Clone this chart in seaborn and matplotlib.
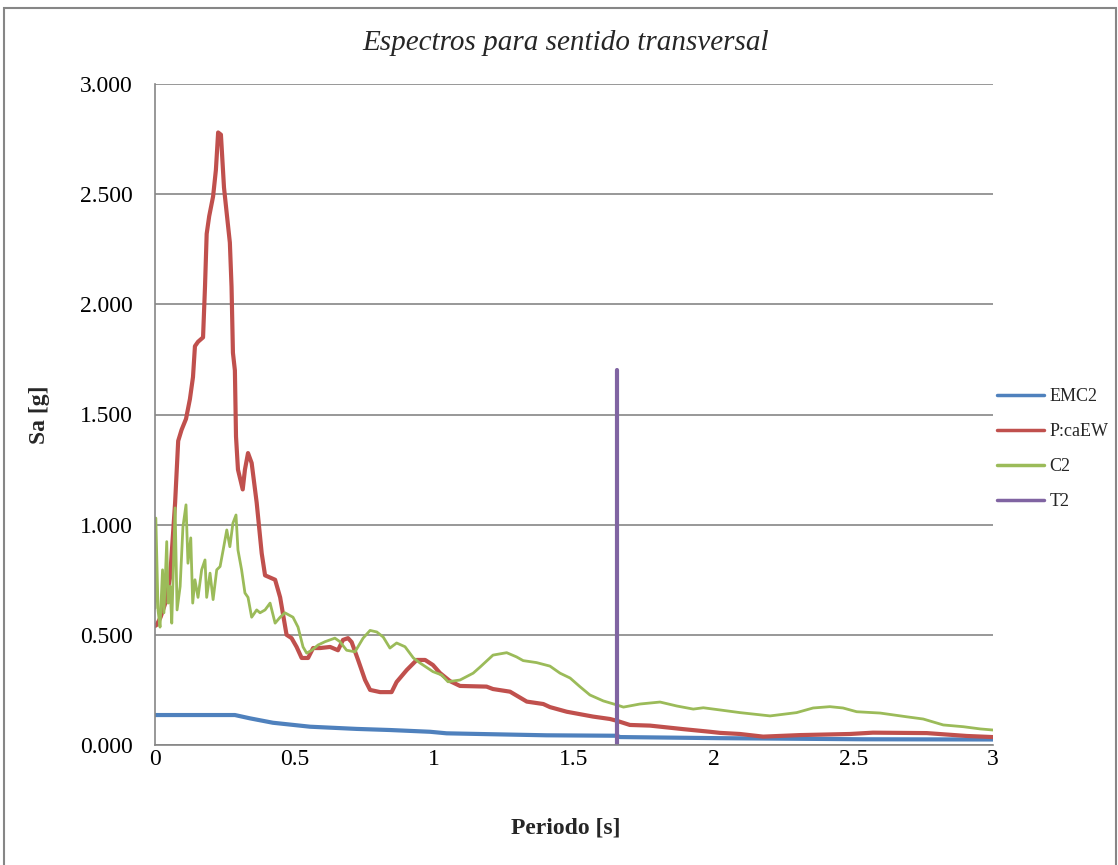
import numpy as np
import pandas as pd
import matplotlib
matplotlib.use('Agg')
import matplotlib.pyplot as plt
import seaborn as sns

# --- datos ---
periodo_emc2 = [0.0, 0.286, 0.34, 0.422, 0.555, 0.722, 0.841, 0.985, 1.044, 1.2,
                1.402, 1.653, 1.665, 2.023, 2.535, 3.0]
sa_emc2 = [0.136, 0.136, 0.121, 0.101, 0.083, 0.073, 0.068, 0.060, 0.053, 0.049,
           0.044, 0.042, 0.036, 0.031, 0.026, 0.025]

periodo_caew = [0.0, 0.006, 0.02, 0.036, 0.054, 0.072, 0.083, 0.095, 0.111, 0.125,
                0.136, 0.143, 0.154, 0.172, 0.179, 0.185, 0.194, 0.208, 0.218, 0.226,
                0.236, 0.247, 0.257, 0.268, 0.274, 0.279, 0.286, 0.290, 0.297, 0.314,
                0.322, 0.333, 0.346, 0.364, 0.382, 0.394, 0.412, 0.430, 0.448, 0.471,
                0.489, 0.507, 0.525, 0.548, 0.566, 0.591, 0.627, 0.655, 0.673, 0.691,
                0.704, 0.727, 0.752, 0.770, 0.806, 0.847, 0.865, 0.901, 0.937, 0.967,
                0.995, 1.020, 1.056, 1.092, 1.187, 1.210, 1.271, 1.331, 1.390, 1.414,
                1.474, 1.568, 1.629, 1.653, 1.700, 1.772, 1.891, 1.987, 2.023, 2.094,
                2.177, 2.309, 2.488, 2.570, 2.763, 2.906, 3.0]
sa_caew = [0.54, 0.545, 0.58, 0.64, 0.76, 1.10, 1.38, 1.43, 1.48, 1.57,
           1.67, 1.81, 1.83, 1.85, 2.08, 2.32, 2.40, 2.49, 2.61, 2.78,
           2.77, 2.53, 2.41, 2.28, 2.08, 1.78, 1.70, 1.40, 1.25, 1.16,
           1.25, 1.325, 1.28, 1.10, 0.87, 0.77, 0.76, 0.75, 0.67, 0.50,
           0.485, 0.445, 0.395, 0.395, 0.44, 0.44, 0.445, 0.43, 0.477, 0.485,
           0.467, 0.386, 0.295, 0.25, 0.24, 0.24, 0.286, 0.34, 0.386, 0.386,
           0.363, 0.327, 0.290, 0.268, 0.265, 0.254, 0.242, 0.197, 0.186, 0.172,
           0.151, 0.129, 0.118, 0.110, 0.091, 0.088, 0.072, 0.060, 0.055, 0.050,
           0.038, 0.045, 0.050, 0.056, 0.054, 0.041, 0.036]

periodo_c2 = [0.0, 0.003, 0.011, 0.018, 0.027, 0.032, 0.042, 0.047, 0.054, 0.060,
              0.072, 0.079, 0.090, 0.100, 0.111, 0.118, 0.128, 0.135, 0.143, 0.154,
              0.167, 0.179, 0.185, 0.197, 0.208, 0.221, 0.233, 0.244, 0.257, 0.268,
              0.279, 0.290, 0.297, 0.310, 0.322, 0.333, 0.346, 0.364, 0.376, 0.394,
              0.412, 0.430, 0.448, 0.465, 0.494, 0.512, 0.530, 0.543, 0.561, 0.584,
              0.609, 0.644, 0.662, 0.686, 0.716, 0.745, 0.770, 0.794, 0.817, 0.841,
              0.865, 0.895, 0.925, 0.949, 0.995, 1.026, 1.049, 1.092, 1.139, 1.164,
              1.210, 1.259, 1.294, 1.318, 1.366, 1.414, 1.450, 1.486, 1.521, 1.557,
              1.605, 1.653, 1.677, 1.736, 1.808, 1.868, 1.927, 1.963, 2.023, 2.094,
              2.202, 2.297, 2.356, 2.416, 2.463, 2.512, 2.596, 2.691, 2.750, 2.822,
              2.894, 2.954, 3.0]
sa_c2 = [0.62, 1.03, 0.61, 0.535, 0.795, 0.60, 0.923, 0.644, 0.72, 0.553,
         1.076, 0.613, 0.72, 0.99, 1.09, 0.825, 0.94, 0.644, 0.75, 0.67,
         0.795, 0.84, 0.67, 0.78, 0.66, 0.795, 0.81, 0.885, 0.976, 0.90,
         1.007, 1.044, 0.885, 0.795, 0.69, 0.67, 0.58, 0.613, 0.60, 0.613,
         0.644, 0.553, 0.58, 0.60, 0.58, 0.535, 0.445, 0.417, 0.43, 0.454,
         0.469, 0.485, 0.469, 0.43, 0.423, 0.485, 0.52, 0.513, 0.49, 0.44,
         0.463, 0.446, 0.395, 0.372, 0.333, 0.318, 0.287, 0.295, 0.326, 0.354,
         0.408, 0.419, 0.40, 0.383, 0.374, 0.358, 0.326, 0.304, 0.265, 0.227,
         0.20, 0.182, 0.172, 0.186, 0.195, 0.177, 0.163, 0.169, 0.159, 0.147,
         0.132, 0.147, 0.168, 0.174, 0.168, 0.151, 0.145, 0.128, 0.118, 0.091,
         0.083, 0.073, 0.068]

periodo_t2 = [1.654, 1.654]
sa_t2 = [0.0, 1.70]

nombres = ['EMC2', 'P:caEW', 'C2', 'T2']
colores = ['#4F81BD', '#C0504D', '#9BBB59', '#8064A2']
anchos = [3.0, 3.0, 2.0, 3.0]

series = [(periodo_emc2, sa_emc2), (periodo_caew, sa_caew),
          (periodo_c2, sa_c2), (periodo_t2, sa_t2)]

# --- figura estilo Excel ---
sns.set_style('white')
plt.rcParams['font.family'] = ['Liberation Serif', 'DejaVu Serif']

fig = plt.figure(figsize=(11.18, 8.65), dpi=100)
ax = fig.add_axes([155 / 1118, 1 - 745 / 865, (993 - 155) / 1118, (745 - 84) / 865])

for (px, sa), nombre, color, lw in zip(series, nombres, colores, anchos):
    df = pd.DataFrame({'Periodo': px, 'Sa': sa})
    sns.lineplot(data=df, x='Periodo', y='Sa', ax=ax, color=color, linewidth=lw,
                 estimator=None, sort=False, label=nombre)

ax.set_xlim(0, 3)
ax.set_ylim(0, 3)
ax.set_xticks(np.arange(0, 3.01, 0.5))
ax.set_xticklabels(['0', '0.5', '1', '1.5', '2', '2.5', '3'])
ax.set_yticks(np.arange(0, 3.01, 0.5))
ax.set_yticklabels([f'{v:.3f}' for v in np.arange(0, 3.01, 0.5)])
ax.tick_params(axis='both', labelsize=17, length=0, colors='black')
ax.tick_params(axis='y', pad=16)
ax.tick_params(axis='x', pad=3)

ax.yaxis.grid(True, color='#868686', linewidth=1.2)
ax.xaxis.grid(False)
ax.set_axisbelow(True)
for lado in ['top', 'right']:
    ax.spines[lado].set_visible(False)
for lado in ['left', 'bottom']:
    ax.spines[lado].set_color('#868686')
    ax.spines[lado].set_linewidth(1.2)

ax.set_xlabel('')
ax.set_ylabel('')
fig.text(566 / 1118, 1 - 828 / 865, 'Periodo [s]', ha='center', va='center',
         fontsize=17, fontweight='bold')
fig.text(40 / 1118, 1 - 415 / 865, 'Sa [g]', ha='center', va='center',
         fontsize=17, fontweight='bold', rotation=90)
fig.text(566 / 1118, 1 - 43 / 865, 'Espectros para sentido transversal',
         ha='center', va='center', fontsize=21, style='italic')

# leyenda a la derecha
leg = ax.legend(loc='center left', bbox_to_anchor=(997 / 1118, 1 - 449 / 865),
                bbox_transform=fig.transFigure, frameon=False, fontsize=13,
                handlelength=2.6, handletextpad=0.3, labelspacing=1.0,
                borderaxespad=0, borderpad=0)
for linea in leg.get_lines():
    linea.set_linewidth(2.5)

# marco exterior del grafico
fig.add_artist(plt.Rectangle((3.5 / 1118, -0.1), (1116 - 3.5) / 1118, 1 - 8 / 865 + 0.1,
                             transform=fig.transFigure, fill=False,
                             edgecolor='#868686', linewidth=1.5))

plt.savefig('out.png', dpi=100, facecolor='white')
